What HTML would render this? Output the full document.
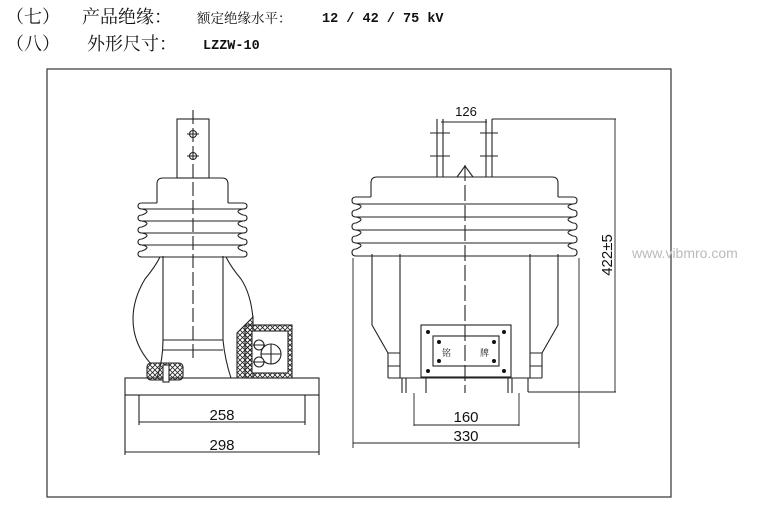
<!DOCTYPE html>
<html><head><meta charset="utf-8"><style>
body{margin:0;background:#fff;width:780px;height:510px;overflow:hidden}
svg{display:block}
</style></head><body>
<svg width="780" height="510" viewBox="0 0 780 510" xmlns="http://www.w3.org/2000/svg" font-family="Liberation Sans, sans-serif">
<defs>
<pattern id="h" width="5" height="5" patternUnits="userSpaceOnUse"><path d="M0 0L5 5M5 0L0 5" stroke="#222" stroke-width="0.8"/></pattern>
</defs>
<g font-family="'Noto Serif CJK SC', serif" fill="#111">
<text x="6" y="23" font-size="18">（七）</text>
<text x="82" y="23" font-size="18">产品绝缘：</text>
<text x="197" y="23" font-size="13.5">额定绝缘水平：</text>
<text x="322" y="22" font-size="13.5" font-weight="bold" font-family="Liberation Mono, monospace">12 / 42  / 75  kV</text>
<text x="6" y="50" font-size="18">（八）</text>
<text x="87" y="50" font-size="18">外形尺寸：</text>
<text x="203" y="49" font-size="13.5" font-weight="bold" font-family="Liberation Mono, monospace">LZZW-10</text>
</g>
<rect x="47" y="69" width="624" height="428" fill="none" stroke="#333" stroke-width="1.2"/>
<text x="632" y="258" font-size="14" fill="#bbb">www.vibmro.com</text>
<g fill="none" stroke="#222" stroke-width="1.1">
<!-- LEFT DEVICE -->
<rect x="177" y="119" width="32" height="59"/>
<circle cx="193" cy="134" r="3.5"/><circle cx="193" cy="156" r="3.5"/>
<path d="M187 134h12M187 156h12"/>
<path d="M157 203v-19q0-6 6-6h59q6 0 6 6v19"/>
<path d="M157 203h-15q-4 0-4 3t4 3h101q4 0 4-3t-4-3h-15"/>
<path d="M142 209q10 2 0 6q-4 0-4 3t4 3h101q4 0 4-3t-4-3q-10-4 0-6"/>
<path d="M142 221q10 2 0 6q-4 0-4 3t4 3h101q4 0 4-3t-4-3q-10-4 0-6"/>
<path d="M142 233q10 2 0 6q-4 0-4 3t4 3h101q4 0 4-3t-4-3q-10-4 0-6"/>
<path d="M142 245q10 2 0 6q-4 0-4 3t4 3h101q4 0 4-3t-4-3q-10-4 0-6"/>
<path d="M163 256v84q0 20-6 38M223 256v84q2 20 8 38"/>
<path d="M163 340h60M163 350h60"/>
<path d="M160 257q-5 10-15 22q-12 20-12 40q0 25 18 45"/>
<path d="M226 257q5 10 15 22q10 15 12 40"/>
<rect x="125" y="378" width="194" height="17"/>
<path d="M193 110v250" stroke-dasharray="14 4"/>
<path d="M245 325l8-8v61h-16v-45z" fill="url(#h)"/>
<rect x="245" y="325" width="47" height="53" fill="url(#h)"/>
<rect x="252" y="331" width="36" height="42" fill="#fff"/>
<circle cx="271" cy="354" r="10" fill="#fff"/>
<circle cx="259" cy="345" r="5" fill="#fff"/><circle cx="259" cy="362" r="5" fill="#fff"/>
<path d="M261 354h20M271 344v20M253 345h12M253 362h12"/>
<rect x="147" y="363" width="36" height="17" rx="4" fill="url(#h)"/>
<rect x="163" y="365" width="6" height="17" fill="#fff"/>
<!-- left dims -->
<path d="M139 395v30M305 395v30M125 395v60M319 395v60"/>
<path d="M139 422h166M125 452h194" stroke-width="0.9"/>
<!-- RIGHT DEVICE -->
<path d="M437 119v58M443 119v58M486 119v58M492 119v58"/>
<path d="M430 133h20M430 156h20M480 133h18M480 156h18"/>
<path d="M457 177l8-11l8 11"/>
<path d="M371 197v-14q0-6 6-6h175q6 0 6 6v14"/>
<path d="M371 197h-15q-4 0-4 3.5t4 3.5h217q4 0 4-3.5t-4-3.5h-15"/>
<path d="M356 204q10 2 0 6q-4 0-4 3.5t4 3.5h217q4 0 4-3.5t-4-3.5q-10-4 0-6"/>
<path d="M356 217q10 2 0 6q-4 0-4 3.5t4 3.5h217q4 0 4-3.5t-4-3.5q-10-4 0-6"/>
<path d="M356 230q10 2 0 6q-4 0-4 3.5t4 3.5h217q4 0 4-3.5t-4-3.5q-10-4 0-6"/>
<path d="M356 243q10 2 0 6q-4 0-4 3.5t4 3.5h217q4 0 4-3.5t-4-3.5q-10-4 0-6"/>
<path d="M372 254v71l16 28v25M400 254v124M530 254v124M558 254v71l-16 28v25"/>
<path d="M388 353h12M388 366h12M530 353h12M530 366h12M388 378h154"/>
<rect x="421" y="325" width="90" height="52"/>
<rect x="433" y="336" width="66" height="30"/>
<g fill="#111" stroke="none" font-family="'Noto Serif CJK SC', serif" font-size="9">
<circle cx="428" cy="332" r="2"/><circle cx="504" cy="332" r="2"/><circle cx="428" cy="371" r="2"/><circle cx="504" cy="371" r="2"/>
<circle cx="439" cy="342" r="2"/><circle cx="494" cy="342" r="2"/><circle cx="439" cy="361" r="2"/><circle cx="494" cy="361" r="2"/>
<text x="442" y="356">铭</text><text x="480" y="356">牌</text>
</g>
<path d="M402 378v15M406 378v15M426 378v15M508 378v15M512 378v15M528 378v14M528 392h88"/>
<path d="M465 165v228" stroke-dasharray="16 4"/>
<!-- right dims -->
<path d="M492 119h124M615 119v273" stroke-width="0.9"/>
<path d="M441 122h46" stroke-width="0.9"/>
<path d="M414 393v33M519 393v33M414 425h105" stroke-width="0.9"/>
<path d="M353 258v190M579 258v190M353 443h226" stroke-width="0.9"/>
</g>
<g font-size="15" fill="#111" text-anchor="middle">
<text x="222" y="420">258</text>
<text x="222" y="450">298</text>
<text x="466" y="116" font-size="13">126</text>
<text x="466" y="422">160</text>
<text x="466" y="441">330</text>
<text x="0" y="0" transform="translate(612 255) rotate(-90)">422±5</text>
</g>
</svg>
</body></html>
